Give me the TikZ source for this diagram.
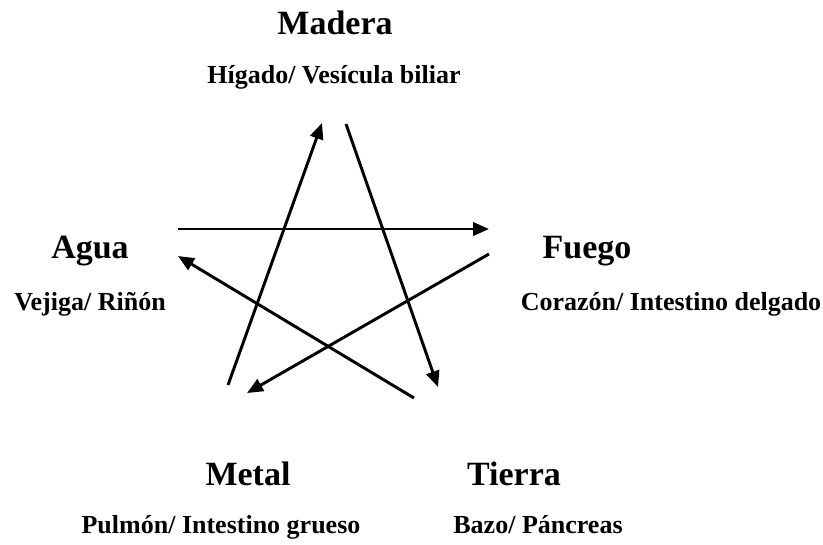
\documentclass[tikz,border=0pt]{standalone}
\usepackage{fontspec}
\setmainfont{Liberation Serif}
\usetikzlibrary{arrows.meta}

\begin{document}
\begin{tikzpicture}[x=0.75pt,y=-0.75pt,
  elem/.style={font=\bfseries\fontsize{25.5}{30}\selectfont,anchor=base},
  organ/.style={font=\bfseries\fontsize{19.5}{23}\selectfont,anchor=base},
  flow/.style={line width=2.2pt,-{Triangle[length=12pt,width=10pt]}}]
\useasboundingbox (0,0) rectangle (823,544);

% Elements and organs
\node[elem] (madera) at (335,34) {Madera};
\node[organ] (higado) at (334,83) {Hígado/ Vesícula biliar};

\node[elem] (agua) at (90,258) {Agua};
\node[organ] (vejiga) at (90,310) {Vejiga/ Riñón};

\node[elem] (fuego) at (587,258) {Fuego};
\node[organ] (corazon) at (671,310) {Corazón/ Intestino delgado};

\node[elem] (metal) at (248,485) {Metal};
\node[organ] (pulmon) at (221,533) {Pulmón/ Intestino grueso};

\node[elem] (tierra) at (514,485) {Tierra};
\node[organ] (bazo) at (538,533) {Bazo/ Páncreas};

% Star points
\coordinate (metalA) at (228,385);
\coordinate (maderaA) at (322,123);
\coordinate (maderaB) at (346,124);
\coordinate (tierraA) at (438,387);
\coordinate (aguaA) at (178,229);
\coordinate (fuegoA) at (489,229);
\coordinate (fuegoB) at (489,254);
\coordinate (metalB) at (247,393);
\coordinate (tierraB) at (414,398);
\coordinate (aguaB) at (178,256);

% Arrows
\draw[flow] (metalA) -- (maderaA);
\draw[flow] (maderaB) -- (tierraA);
\draw[flow] (aguaA) -- (fuegoA);
\draw[flow] (fuegoB) -- (metalB);
\draw[flow] (tierraB) -- (aguaB);
\end{tikzpicture}
\end{document}
